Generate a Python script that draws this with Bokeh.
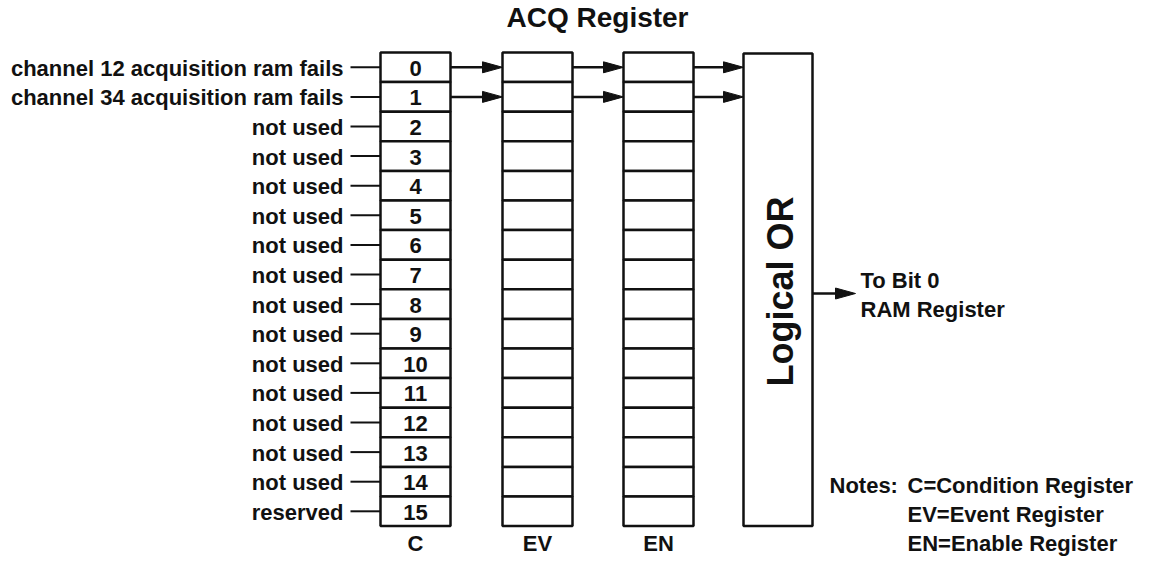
import math
from bokeh.plotting import figure
from bokeh.models import Range1d
from bokeh.core.properties import value
from bokeh.embed import file_html
from bokeh.resources import INLINE

# ---------------- data ----------------
title = "ACQ Register"
bit_numbers = ["0", "1", "2", "3", "4", "5", "6", "7",
               "8", "9", "10", "11", "12", "13", "14", "15"]
bit_labels = ["channel 12 acquisition ram fails",
              "channel 34 acquisition ram fails",
              "not used", "not used", "not used", "not used", "not used",
              "not used", "not used", "not used", "not used", "not used",
              "not used", "not used", "not used", "reserved"]
columns = ["C", "EV", "EN"]
active_bits = [0, 1]
or_label = "Logical OR"
output_label = ["To Bit 0", "RAM Register"]
notes_head = "Notes:"
notes = ["C=Condition Register", "EV=Event Register", "EN=Enable Register"]

# ---------------- layout (pixels of the reference) ----------------
FONT = value("Liberation Sans")
col_left = [380, 502, 623]
box_w = 70
top = 52
rh = 29.6
n = len(bit_numbers)
bottom = top + n * rh
or_left, or_w, or_top = 743, 69, 53
LW = 2.5
INK = "#111111"
FS = "22px"

p = figure(width=1136, height=556, x_range=Range1d(0, 1136), y_range=Range1d(556, 0),
           x_axis_location=None, y_axis_location=None, toolbar_location=None,
           output_backend="svg", min_border=0)
p.grid.visible = False
p.outline_line_color = None
p.background_fill_color = "white"

def txt(x, y, t, align="left", size=FS, **kw):
    p.text(x=x, y=y, text=t, text_align=align, text_baseline="middle",
           text_font=FONT, text_font_size=size, text_font_style="bold",
           text_color=INK, **kw)

# register boxes
L, R, T, B = [], [], [], []
for cl in col_left:
    for i in range(n):
        L.append(cl); R.append(cl + box_w)
        T.append(top + i * rh); B.append(top + (i + 1) * rh)
p.quad(left=L, right=R, top=T, bottom=B, fill_color="white",
       line_color=INK, line_width=LW)

# logical OR box
p.quad(left=[or_left], right=[or_left + or_w], top=[or_top], bottom=[bottom],
       fill_color="white", line_color=INK, line_width=LW)
txt([or_left + or_w / 2 + 2], [291], [or_label], align="center", size="36px",
    angle=math.pi / 2)

row_c = [top + (i + 0.5) * rh for i in range(n)]
# bit numbers in C
txt([col_left[0] + box_w / 2] * n, [y + 1 for y in row_c], bit_numbers, align="center")
# bit labels and leader dashes
txt([343] * n, [y + 1 for y in row_c], bit_labels, align="right")
p.segment(x0=[350] * n, y0=row_c, x1=[col_left[0]] * n, y1=row_c,
          line_color=INK, line_width=2)

# arrows
hl, hw = 20, 5.5
ax0, ay0, ax1, ay1, px, py = [], [], [], [], [], []
targets = [col_left[1], col_left[2], or_left]
starts = [col_left[0] + box_w, col_left[1] + box_w, col_left[2] + box_w]
for b in active_bits:
    y = row_c[b]
    for s, t in zip(starts, targets):
        ax0.append(s); ay0.append(y); ax1.append(t - hl + 2); ay1.append(y)
        px.append([t, t - hl, t - hl]); py.append([y, y - hw, y + hw])
yo = 293
ax0.append(or_left + or_w); ay0.append(yo); ax1.append(855 - hl + 2); ay1.append(yo)
px.append([855, 855 - hl, 855 - hl]); py.append([yo, yo - hw, yo + hw])
p.segment(x0=ax0, y0=ay0, x1=ax1, y1=ay1, line_color=INK, line_width=2.5)
p.patches(xs=px, ys=py, fill_color=INK, line_color=INK, line_width=1)

# output label
txt([860, 860], [280, 309], output_label)

# column labels
txt([c + box_w / 2 for c in col_left], [543] * 3, columns, align="center")

# title
txt([597], [17], [title], align="center", size="28px")

# notes
txt([829], [485], [notes_head])
txt([907] * 3, [485, 514, 543], notes)

open("out.html", "w").write(file_html(p, INLINE))
